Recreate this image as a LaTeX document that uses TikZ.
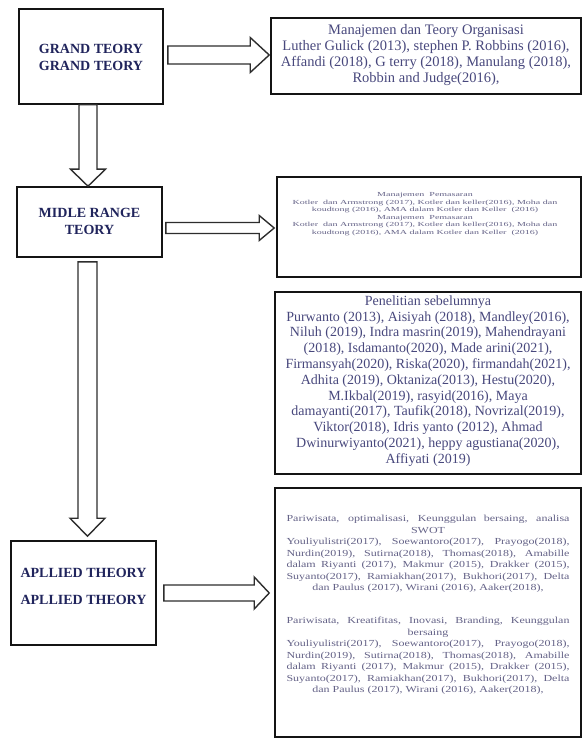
\documentclass[tikz,border=0pt]{standalone}
\usepackage{fontspec}
\setmainfont{Liberation Serif}
\usetikzlibrary{calc}
\definecolor{titlec}{RGB}{32,36,92}
\definecolor{bodyc}{RGB}{72,72,125}
\definecolor{lightc}{RGB}{100,98,135}
\definecolor{framec}{RGB}{20,20,20}
\definecolor{arrowc}{RGB}{45,45,45}
\tikzset{
  box/.style={draw=framec, line width=1.6pt, fill=white, inner sep=0pt, rectangle},
  barrow/.style={draw=arrowc, line width=1.4pt, fill=white, line join=miter},
  ttl/.style={text=titlec, font=\fontsize{14}{17}\selectfont\bfseries, align=center, inner sep=0pt},
  body/.style={text=bodyc, font=\fontsize{14.5}{16}\selectfont, align=center, inner sep=0pt},
  rbody/.style={text=bodyc, font=\fontsize{14}{15.8}\selectfont, align=center, inner sep=0pt},
  small/.style={text=lightc, inner sep=0pt},
}
\newcommand\placebox[5]{\node[box, minimum width={#4-#2}, minimum height={#5-#3}] (#1) at ({(#2+#4)/2},{(#3+#5)/2}) {};}
\newcommand\hblockarrow[5]{\draw[barrow] let \p1=(#1), \p2=(#2) in
  (\x1,\y2+#3pt) -- (\x2-#5pt,\y2+#3pt) -- (\x2-#5pt,\y2+#4pt) -- (\x2,\y2) --
  (\x2-#5pt,\y2-#4pt) -- (\x2-#5pt,\y2-#3pt) -- (\x1,\y2-#3pt) -- cycle;}
\newcommand\vblockarrow[5]{\draw[barrow] let \p1=(#1), \p2=(#2) in
  (\x1-#3pt,\y1) -- (\x1-#3pt,\y2+#5pt) -- (\x1-#4pt,\y2+#5pt) -- (\x1,\y2) --
  (\x1+#4pt,\y2+#5pt) -- (\x1+#3pt,\y2+#5pt) -- (\x1+#3pt,\y1) -- cycle;}
\newcommand\jl[1]{\makebox[283pt][s]{#1}}
\begin{document}
\begin{tikzpicture}[x=1pt,y=-1pt]
\fill[white] (0,0) rectangle (583,743);
\useasboundingbox (0,0) rectangle (583,743);

% boxes
\placebox{grand}{19}{9}{163}{104}
\placebox{right1}{271}{18}{581}{94}
\placebox{middle}{17}{187}{162}{257}
\placebox{midright}{277}{177}{581}{277}
\placebox{research}{275}{292}{581}{474}
\placebox{applied}{11}{541}{156}{645}
\placebox{appright}{275}{488}{581}{737}

% titles
\node[ttl] (grandtext) at (91,57) {GRAND TEORY\\GRAND TEORY};
\node[ttl] (middletext) at (89.5,221) {MIDLE RANGE\\TEORY};
\node[ttl] (applabel1) at (83.5,573) {APLLIED THEORY};
\node[ttl] (applabel2) at (83.5,600) {APLLIED THEORY};

% right texts
\node[body] (right1text) at (426,55) {Manajemen dan Teory Organisasi\\
Luther Gulick (2013), stephen P. Robbins (2016),\\
Affandi (2018), G terry (2018), Manulang (2018),\\
Robbin and Judge(2016),};

\node[small] (midrighttext) at (425,214) {\scalebox{1}[0.62]{\fontsize{10}{12}\selectfont\begin{tabular}{@{}c@{}}
Manajemen\enspace Pemasaran\\
Kotler\enspace dan Armstrong (2017), Kotler dan keller(2016), Moha dan\\
koudtong (2016), AMA dalam Kotler dan Keller\enspace (2016)\\
Manajemen\enspace Pemasaran\\
Kotler\enspace dan Armstrong (2017), Kotler dan keller(2016), Moha dan\\
koudtong (2016), AMA dalam Kotler dan Keller\enspace (2016)
\end{tabular}}};

\node[rbody] (researchtext) at (428,381) {Penelitian sebelumnya\\
Purwanto (2013), Aisiyah (2018), Mandley(2016),\\
Niluh (2019), Indra masrin(2019), Mahendrayani\\
(2018), Isdamanto(2020), Made arini(2021),\\
Firmansyah(2020), Riska(2020), firmandah(2021),\\
Adhita (2019), Oktaniza(2013), Hestu(2020),\\
M.Ikbal(2019), rasyid(2016), Maya\\
damayanti(2017), Taufik(2018), Novrizal(2019),\\
Viktor(2018), Idris yanto (2012), Ahmad\\
Dwinurwiyanto(2021), heppy agustiana(2020),\\
Affiyati (2019)};

\node[small] (apptext1) at (428,554) {\scalebox{1}[0.77]{\fontsize{12}{15}\selectfont\begin{tabular}{@{}c@{}}
\jl{Pariwisata, optimalisasi, Keunggulan bersaing, analisa}\\
SWOT\\
\jl{Youliyulistri(2017), Soewantoro(2017), Prayogo(2018),}\\
\jl{Nurdin(2019), Sutirna(2018), Thomas(2018), Amabille}\\
\jl{dalam Riyanti (2017), Makmur (2015), Drakker (2015),}\\
\jl{Suyanto(2017), Ramiakhan(2017), Bukhori(2017), Delta}\\
dan Paulus (2017), Wirani (2016), Aaker(2018),
\end{tabular}}};

\node[small] (apptext2) at (428,656) {\scalebox{1}[0.77]{\fontsize{12}{15}\selectfont\begin{tabular}{@{}c@{}}
\jl{Pariwisata, Kreatifitas, Inovasi, Branding, Keunggulan}\\
bersaing\\
\jl{Youliyulistri(2017), Soewantoro(2017), Prayogo(2018),}\\
\jl{Nurdin(2019), Sutirna(2018), Thomas(2018), Amabille}\\
\jl{dalam Riyanti (2017), Makmur (2015), Drakker (2015),}\\
\jl{Suyanto(2017), Ramiakhan(2017), Bukhori(2017), Delta}\\
dan Paulus (2017), Wirani (2016), Aaker(2018),
\end{tabular}}};

% arrow end points
\coordinate (a1s) at ($(grand.east)+(4,-1.5)$);
\coordinate (a1e) at ($(right1.west |- a1s)+(-1,0)$);
\coordinate (a2e) at ($(midright.west)+(-2,1)$);
\coordinate (a2s) at ($(middle.east |- a2e)+(3,0)$);
\coordinate (a3s) at ($(applied.east)+(7,0)$);
\coordinate (a3e) at ($(appright.west |- applied.east)+(-5,0)$);
\coordinate (v1s) at ($(grand.south)+(-3,0)$);
\coordinate (v1e) at (v1s |- middle.north);
\coordinate (v2s) at ($(middle.south)+(-2,4)$);
\coordinate (v2e) at ($(v2s |- applied.north)+(0,-4)$);

% block arrows
\hblockarrow{a1s}{a1e}{9}{17.5}{19}
\hblockarrow{a2s}{a2e}{5.5}{12.5}{15}
\hblockarrow{a3s}{a3e}{8}{16}{15}
\vblockarrow{v1s}{v1e}{9}{17.5}{17}
\vblockarrow{v2s}{v2e}{9.5}{17.5}{18}
\end{tikzpicture}
\end{document}
